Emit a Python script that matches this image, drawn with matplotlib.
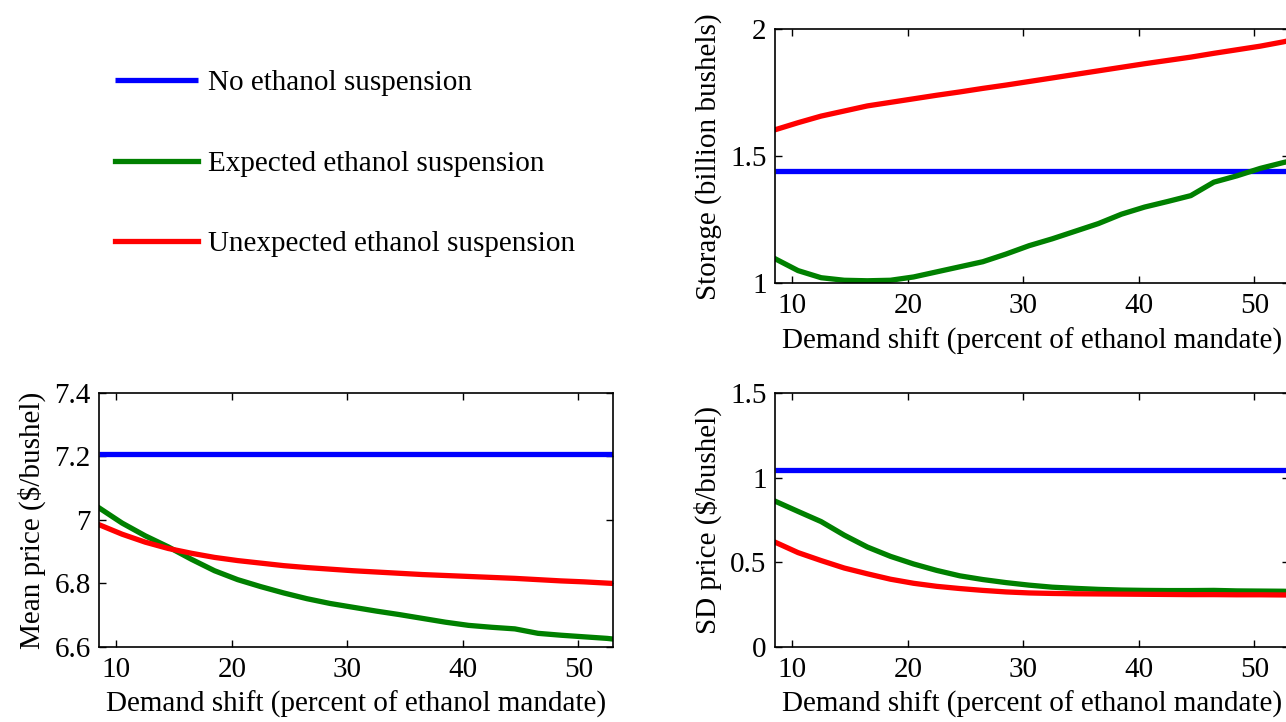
import matplotlib
matplotlib.use("Agg")
import matplotlib.pyplot as plt

plt.rcParams['font.family'] = ['Liberation Serif', 'DejaVu Serif']

# ---- data ----
shift = [8.5, 10.5, 12.5, 14.5, 16.5, 18.5, 20.5, 22.5, 24.5, 26.5, 28.5, 30.5,
         32.5, 34.5, 36.5, 38.5, 40.5, 42.5, 44.5, 46.5, 48.5, 50.5, 52.5, 53.0]

labels = ["No ethanol suspension", "Expected ethanol suspension",
          "Unexpected ethanol suspension"]
colors = ["#0000ff", "#008000", "#ff0000"]

storage_none = 1.44
storage_expected = [1.097, 1.050, 1.022, 1.012, 1.010, 1.012, 1.025, 1.045, 1.065, 1.085,
                    1.115, 1.148, 1.175, 1.205, 1.235, 1.272, 1.300, 1.322, 1.345, 1.398,
                    1.423, 1.452, 1.475, 1.480]
storage_unexpected = [1.604, 1.632, 1.658, 1.678, 1.698, 1.712, 1.726, 1.740, 1.753, 1.767,
                      1.780, 1.794, 1.808, 1.822, 1.836, 1.850, 1.864, 1.877, 1.890, 1.905,
                      1.919, 1.933, 1.950, 1.955]

mean_none = 7.207
mean_expected = [7.038, 6.990, 6.950, 6.915, 6.876, 6.840, 6.812, 6.790, 6.770, 6.752,
                 6.737, 6.725, 6.713, 6.702, 6.690, 6.678, 6.668, 6.662, 6.657, 6.643,
                 6.637, 6.632, 6.627, 6.625]
mean_unexpected = [6.985, 6.955, 6.930, 6.910, 6.895, 6.882, 6.872, 6.864, 6.856, 6.850,
                   6.845, 6.840, 6.836, 6.832, 6.828, 6.825, 6.822, 6.819, 6.816, 6.812,
                   6.808, 6.805, 6.801, 6.800]

sd_none = 1.045
sd_expected = [0.861, 0.800, 0.740, 0.660, 0.590, 0.535, 0.490, 0.452, 0.420, 0.398,
               0.380, 0.365, 0.353, 0.346, 0.340, 0.336, 0.334, 0.333, 0.333, 0.334,
               0.331, 0.330, 0.329, 0.328]
sd_unexpected = [0.619, 0.557, 0.510, 0.466, 0.432, 0.400, 0.376, 0.358, 0.345, 0.334,
                 0.325, 0.319, 0.316, 0.314, 0.313, 0.312, 0.311, 0.310, 0.309, 0.309,
                 0.308, 0.308, 0.307, 0.307]

xticks = [10, 20, 30, 40, 50]
xlabel = "Demand shift (percent of ethanol mandate)"

FS = 21
LW = 3.8

fig = plt.figure(figsize=(12.86, 7.22), dpi=100)

W = 0.3997
H = 0.352
ax_st = fig.add_axes([0.6026, 0.6076, W, H])
ax_mp = fig.add_axes([0.077, 0.1039, W, H])
ax_sd = fig.add_axes([0.6026, 0.1039, W, H])


def draw(ax, none_val, exp_vals, unexp_vals, ylim, yticks, yticklabels, ylabel):
    h1, = ax.plot([shift[0], shift[-1]], [none_val, none_val], color=colors[0],
                  lw=LW, solid_capstyle='butt', label=labels[0])
    h2, = ax.plot(shift, exp_vals, color=colors[1], lw=LW, label=labels[1])
    h3, = ax.plot(shift, unexp_vals, color=colors[2], lw=LW, label=labels[2])
    ax.set_xlim(8.5, 53)
    ax.set_ylim(*ylim)
    ax.set_xticks(xticks)
    ax.set_yticks(yticks)
    ax.set_yticklabels(yticklabels)
    ax.tick_params(direction='in', top=True, right=True, length=5, width=1,
                   labelsize=FS)
    ax.tick_params(axis='x', pad=7)
    ax.tick_params(axis='y', pad=6)
    for s in ax.spines.values():
        s.set_linewidth(1.2)
    ax.set_xlabel(xlabel, fontsize=FS, labelpad=6)
    ax.set_ylabel(ylabel, fontsize=FS, labelpad=6)
    return [h1, h2, h3]


draw(ax_st, storage_none, storage_expected, storage_unexpected, (1, 2),
     [1, 1.5, 2], ["1", "1.5", "2"], "Storage (billion bushels)")
handles = draw(ax_mp, mean_none, mean_expected, mean_unexpected, (6.6, 7.4),
               [6.6, 6.8, 7.0, 7.2, 7.4], ["6.6", "6.8", "7", "7.2", "7.4"],
               "Mean price ($/bushel)")
draw(ax_sd, sd_none, sd_expected, sd_unexpected, (0, 1.5),
     [0, 0.5, 1, 1.5], ["0", "0.5", "1", "1.5"], "SD price ($/bushel)")

fig.legend(handles, labels, loc='upper left',
           bbox_to_anchor=(115 / 1286, 1 - 70 / 722),
           frameon=False, fontsize=FS, handlelength=2.85, handletextpad=0.33,
           labelspacing=1.85, borderpad=0, borderaxespad=0)

fig.savefig("out.png", dpi=100)
